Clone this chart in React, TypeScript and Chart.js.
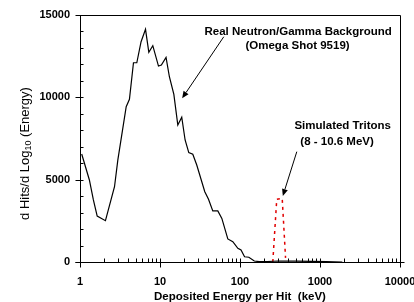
import React, { useEffect, useRef } from "react";
import { Chart, registerables } from "chart.js";

Chart.register(...registerables);

// Real Neutron/Gamma background (Omega shot 9519)
const bgEnergy = [1.05, 1.31, 1.47, 1.64, 2.08, 2.7, 2.97, 3.78, 4.15, 4.66, 5.13, 5.8, 6.59, 7.25, 8.13, 9.57, 10.4, 11.9, 13.1, 14.9, 16.7, 18.7, 20.6, 22.9, 25.7, 28.8, 36.3, 40.4, 45.7, 52.8, 59.3, 70.4, 81.3, 94, 103, 114, 129, 151, 174, 220, 300, 500, 800, 1200, 1900];
const bgCounts = [6560, 4980, 3770, 2790, 2510, 4570, 6190, 9430, 9880, 12100, 12100, 13380, 14130, 12740, 13140, 11900, 11960, 12430, 11250, 10180, 8320, 8790, 7410, 6640, 6540, 5890, 4270, 3810, 3100, 3100, 2650, 1400, 1230, 830, 730, 320, 290, 60, 20, 30, 60, 50, 40, 30, 0];

// Simulated tritons (8 - 10.6 MeV)
const tritonEnergy = [257, 288, 337, 371];
const tritonCounts = [0, 3810, 3870, 250];

const xTickValues = [1, 10, 100, 1000, 10000];
const xTickLabels = ["1", "10", "100", "1000", "10000"];
const yTickValues = [0, 5000, 10000, 15000];
const yTickLabels = ["0", "5000", "10000", "15000"];
const yMinorStep = 1000;

const yTitleParts = ["d Hits/d Log", "10", " (Energy)"];
const xTitle = "Deposited Energy per Hit  (keV)";

const notes = [
  { lines: ["Real Neutron/Gamma Background", "(Omega Shot 9519)"], x: [36, 117], y: [13970, 13120], tail: [62.7, 13680], tip: [18.9, 9940] },
  { lines: ["Simulated Tritons", "(8 - 10.6 MeV)"], x: [479, 568], y: [8280, 7310], tail: [513, 6700], tip: [343, 4010] },
];

const BOLD = "bold 11px 'Liberation Sans', Arial, sans-serif";
const BOLD_L = "bold 11.5px 'Liberation Sans', Arial, sans-serif";

const axesPlugin = {
  id: "axesFrame",
  afterDatasetsDraw(chart: any) {
    const { ctx, chartArea: a, scales } = chart;
    const xs = scales.x;
    const ys = scales.y;
    const L = a.left + 0.5, R = a.right + 0.5, T = a.top + 0.5, B = a.bottom + 0.5;
    ctx.save();
    ctx.strokeStyle = "#000";
    ctx.lineWidth = 1;
    ctx.beginPath();
    ctx.moveTo(L, T); ctx.lineTo(R, T); ctx.lineTo(R, B + 4);
    ctx.moveTo(L, T); ctx.lineTo(L, B + 4);
    ctx.moveTo(L - 5, B); ctx.lineTo(R + 4, B);
    for (let v = yMinorStep; v < 15000; v += yMinorStep) {
      if (v % 5000 === 0) continue;
      const py = Math.round(ys.getPixelForValue(v)) + 0.5;
      ctx.moveTo(L, py); ctx.lineTo(L + 3, py);
    }
    yTickValues.forEach((v) => {
      const py = Math.round(ys.getPixelForValue(v)) + 0.5;
      ctx.moveTo(L - 5, py); ctx.lineTo(L + 3, py);
    });
    for (let d = 1; d < 10000; d *= 10) {
      for (let m = 2; m <= 9; m++) {
        const px = Math.round(xs.getPixelForValue(d * m)) + 0.5;
        ctx.moveTo(px, B); ctx.lineTo(px, B - 4);
      }
    }
    xTickValues.forEach((v) => {
      const px = Math.round(xs.getPixelForValue(v)) + 0.5;
      ctx.moveTo(px, B - 4); ctx.lineTo(px, B + 5);
    });
    ctx.stroke();

    ctx.fillStyle = "#000";
    ctx.font = BOLD;
    ctx.textBaseline = "middle";
    ctx.textAlign = "right";
    yTickValues.forEach((v, i) => {
      ctx.fillText(yTickLabels[i], a.left - 10, ys.getPixelForValue(v));
    });
    ctx.textAlign = "center";
    xTickValues.forEach((v, i) => {
      ctx.fillText(xTickLabels[i], xs.getPixelForValue(v), a.bottom + 20);
    });

    ctx.font = BOLD_L;
    ctx.fillText(xTitle, (a.left + a.right) / 2, a.bottom + 35);

    ctx.save();
    ctx.translate(25, (a.top + a.bottom) / 2 + 15);
    ctx.rotate(-Math.PI / 2);
    const big = "13px 'Liberation Sans', Arial, sans-serif";
    const small = "9px 'Liberation Sans', Arial, sans-serif";
    ctx.font = big;
    const w0 = ctx.measureText(yTitleParts[0]).width;
    const w2 = ctx.measureText(yTitleParts[2]).width;
    ctx.font = small;
    const w1 = ctx.measureText(yTitleParts[1]).width;
    const x0 = -(w0 + w1 + w2) / 2;
    ctx.textAlign = "left";
    ctx.font = big;
    ctx.fillText(yTitleParts[0], x0, 0);
    ctx.font = small;
    ctx.fillText(yTitleParts[1], x0 + w0, 4);
    ctx.font = big;
    ctx.fillText(yTitleParts[2], x0 + w0 + w1, 0);
    ctx.restore();

    ctx.font = BOLD_L;
    ctx.textAlign = "left";
    notes.forEach((n) => {
      n.lines.forEach((t, i) => {
        ctx.fillText(t, xs.getPixelForValue(n.x[i]), ys.getPixelForValue(n.y[i]));
      });
      const tx = xs.getPixelForValue(n.tail[0]), ty = ys.getPixelForValue(n.tail[1]);
      const hx = xs.getPixelForValue(n.tip[0]), hy = ys.getPixelForValue(n.tip[1]);
      const ang = Math.atan2(hy - ty, hx - tx);
      const len = 7, hw = 3;
      const bx = hx - len * Math.cos(ang), by = hy - len * Math.sin(ang);
      ctx.beginPath();
      ctx.moveTo(tx, ty); ctx.lineTo(bx, by);
      ctx.stroke();
      ctx.beginPath();
      ctx.moveTo(hx, hy);
      ctx.lineTo(bx + hw * Math.sin(ang), by - hw * Math.cos(ang));
      ctx.lineTo(bx - hw * Math.sin(ang), by + hw * Math.cos(ang));
      ctx.closePath();
      ctx.fill();
    });
    ctx.restore();
  },
};

export default function App() {
  const ref = useRef<HTMLCanvasElement>(null);
  useEffect(() => {
    if (!ref.current) return;
    const chart = new Chart(ref.current, {
      type: "line",
      data: {
        datasets: [
          {
            label: "Background",
            data: bgEnergy.map((x, i) => ({ x, y: bgCounts[i] })),
            borderColor: "#000",
            borderWidth: 1.2,
            pointRadius: 0,
            tension: 0,
          },
          {
            label: "Tritons",
            data: tritonEnergy.map((x, i) => ({ x, y: tritonCounts[i] })),
            borderColor: "#e00000",
            borderWidth: 1.5,
            borderDash: [3, 4],
            pointRadius: 0,
            tension: 0,
          },
        ],
      },
      options: {
        animation: false,
        responsive: false,
        devicePixelRatio: 1,
        layout: { padding: { left: 80, right: 14, top: 15, bottom: 40 } },
        plugins: { legend: { display: false }, tooltip: { enabled: false } },
        scales: {
          x: { type: "logarithmic", min: 1, max: 10000, display: false },
          y: { type: "linear", min: 0, max: 15000, display: false },
        },
      },
      plugins: [axesPlugin],
    });
    return () => chart.destroy();
  }, []);
  return (
    <div style={{ position: "fixed", left: 0, top: 0, width: 414, height: 302, background: "#fff" }}>
      <canvas ref={ref} width={414} height={302} style={{ width: 414, height: 302 }} />
    </div>
  );
}
